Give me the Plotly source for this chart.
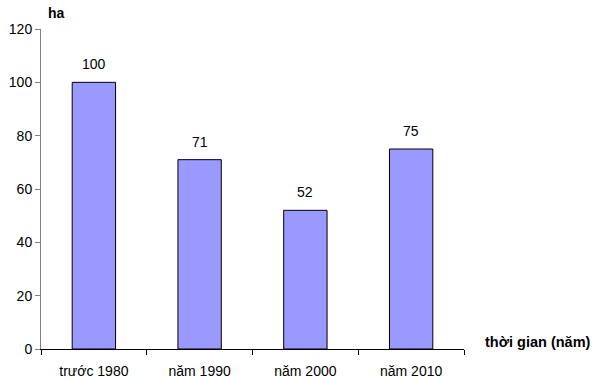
import plotly.graph_objects as go

# Diện tích (ha) theo từng mốc thời gian
categories = ["trước 1980", "năm 1990", "năm 2000", "năm 2010"]
values = [100, 71, 52, 75]
y_ticks = [0, 20, 40, 60, 80, 100, 120]

FONT = "Liberation Sans, Arial, sans-serif"

fig = go.Figure()
fig.add_trace(go.Bar(
    x=categories,
    y=values,
    marker=dict(color="#9999FF", line=dict(color="#000000", width=1)),
    hoverinfo="skip",
))

# Value labels above each bar
for c, v in zip(categories, values):
    fig.add_annotation(
        x=c, y=v, text=str(v), showarrow=False,
        yanchor="bottom", yshift=8,
        font=dict(family=FONT, size=14, color="#000000"),
    )

# Axis titles
fig.add_annotation(
    xref="paper", yref="paper", x=0.012, y=1.0, yshift=6,
    xanchor="left", yanchor="bottom", text="<b>ha</b>", showarrow=False,
    font=dict(family=FONT, size=14, color="#000000"),
)
fig.add_annotation(
    xref="paper", yref="paper", x=1.045, y=0.022,
    xanchor="left", yanchor="middle", text="<b>thời gian (năm)</b>", showarrow=False,
    font=dict(family=FONT, size=14.5, color="#000000"),
)

fig.update_layout(
    width=594, height=379,
    margin=dict(l=41, r=130, t=29, b=30),
    paper_bgcolor="white", plot_bgcolor="white",
    bargap=0.59,
    showlegend=False,
    font=dict(family=FONT, size=14, color="#000000"),
    xaxis=dict(
        showline=True, linecolor="#000000", linewidth=1,
        ticks="outside", ticklen=5, tickcolor="#000000",
        tickson="boundaries", showgrid=False, zeroline=False,
        ticklabelstandoff=9, automargin=False,
        tickfont=dict(family=FONT, size=14),
    ),
    yaxis=dict(
        range=[0, 120], tickvals=y_ticks,
        showline=True, linecolor="#808080", linewidth=1,
        ticks="outside", ticklen=5, tickcolor="#808080",
        showgrid=False, zeroline=False, automargin=False,
        tickfont=dict(family=FONT, size=14),
    ),
)

fig.write_html("out.html")
